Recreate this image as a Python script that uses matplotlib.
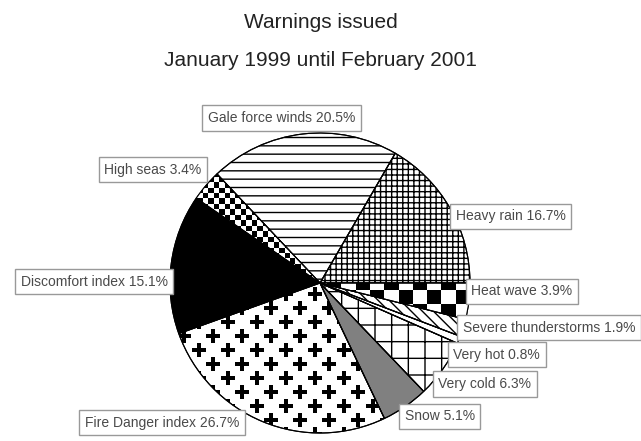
import numpy as np
import matplotlib
matplotlib.use("Agg")
import matplotlib.pyplot as plt
from matplotlib.patches import Wedge

plt.rcParams["font.family"] = ["Liberation Sans", "DejaVu Sans"]
plt.rcParams["hatch.linewidth"] = 1.0

# data, counter-clockwise from 3 o'clock
categories = ["Heavy rain", "Gale force winds", "High seas", "Discomfort index",
              "Fire Danger index", "Snow", "Very cold", "Very hot",
              "Severe thunderstorms", "Heat wave"]
shares = [16.7, 20.5, 3.4, 15.1, 26.7, 5.1, 6.3, 0.8, 1.9, 3.9]

title_lines = ["Warnings issued", "January 1999 until February 2001"]

# styling per slice
face_colors = ["white", "white", "white", "black", "white", "#808080",
               "white", "white", "white", "white"]
hatches = ["+++", "--", None, None, None, None, "+", None, "\\\\\\", None]

# label nudges in pixels (right, down) from slice mid point on the rim
label_side = ["left", "center", "right", "right", "right", "left", "left",
              "left", "left", "left"]
label_nudge = [(0, 8), (-21, -16), (1, -16), (2, 18), (-18, 1), (-6, 10),
               (-10, 15), (-11, 15), (-6, 0), (-3, -10)]

W, H = 641, 441
R_PX = 150.0
CX, CY = 320, 283  # pie centre in pixels (from top-left)
LABEL_FS = 10
PAD = 0.4

fig = plt.figure(figsize=(W / 100, H / 100), dpi=100)
ax = fig.add_axes([0, 0, 1, 1])

wedges, _ = ax.pie(shares, startangle=0, counterclock=True,
                   colors=face_colors,
                   wedgeprops=dict(edgecolor="black", linewidth=0.8))
for w, h in zip(wedges, hatches):
    if h:
        w.set_hatch(h)

ax.set_xlim(-CX / R_PX, (W - CX) / R_PX)
ax.set_ylim(-(H - CY) / R_PX, CY / R_PX)
ax.set_aspect("auto")
ax.axis("off")


def checker(wedge, cell_px):
    n = int(round(2 * R_PX / cell_px))
    grid = (np.add.outer(np.arange(n), np.arange(n)) % 2).astype(float)
    im = ax.imshow(grid, cmap="gray_r", vmin=0, vmax=1, extent=(-1, 1, -1, 1),
                   interpolation="nearest", aspect="auto", zorder=1.5)
    im.set_clip_path(wedge)


checker(wedges[2], 5.5)   # High seas
checker(wedges[9], 14)    # Heat wave

# Fire danger: staggered plus signs
step_x, step_y = 29 / R_PX, 14 / R_PX
pts = []
for j, y in enumerate(np.arange(-1.1, 1.1, step_y)):
    off = (step_x / 2) * (j % 2)
    for x in np.arange(-1.1 + off, 1.1, step_x):
        pts.append((x, y))
pts = np.array(pts)
sc = ax.scatter(pts[:, 0], pts[:, 1], marker="P", s=100, color="black",
                linewidths=0, zorder=1.6)
sc.set_clip_path(wedges[4])

for w in wedges:
    w.set_zorder(1)
    ax.add_patch(Wedge(w.center, w.r, w.theta1, w.theta2, fill=False,
                       edgecolor="black", linewidth=0.8, zorder=2))

# labels
pad_px = PAD * LABEL_FS * 100 / 72
for w, name, val, side, (dx, dy) in zip(wedges, categories, shares,
                                         label_side, label_nudge):
    mid = np.deg2rad((w.theta1 + w.theta2) / 2)
    x = np.cos(mid) + dx / R_PX
    y = np.sin(mid) - dy / R_PX
    if side == "left":
        x += pad_px / R_PX
    elif side == "right":
        x -= pad_px / R_PX
    ax.text(x, y, f"{name} {val:.1f}%", ha=side, va="center",
            fontsize=LABEL_FS, color="#4a4a4a", zorder=3,
            bbox=dict(boxstyle=f"square,pad={PAD}", facecolor="white",
                      edgecolor="#999999", linewidth=1.0))

fig.text(0.5, 1 - 22 / H, title_lines[0], ha="center", va="center",
         fontsize=15, color="#222222")
fig.text(0.5, 1 - 60 / H, title_lines[1], ha="center", va="center",
         fontsize=15, color="#222222")

fig.savefig("out.png", dpi=100)
